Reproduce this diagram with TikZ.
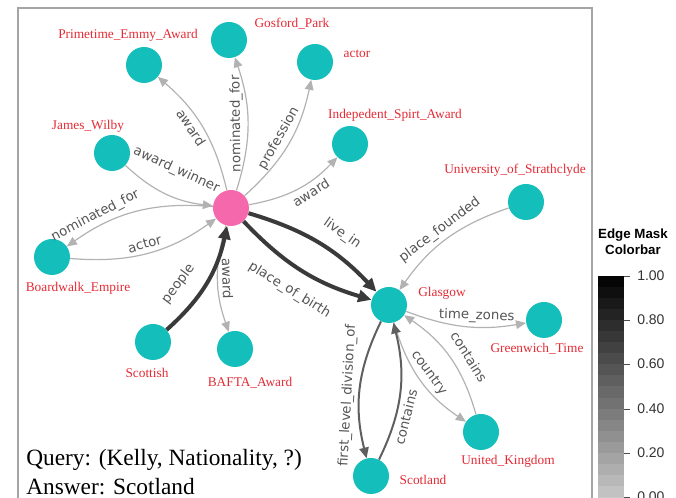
\documentclass[tikz,border=0pt]{standalone}
\usepackage{fontspec}
\setmainfont{Liberation Serif}
\newfontfamily\edgefont{DejaVu Sans}
\newfontfamily\barfont{Liberation Sans}
\usetikzlibrary{arrows.meta}

\definecolor{entteal}{RGB}{20,190,186}
\definecolor{qpink}{RGB}{246,104,172}
\definecolor{namered}{RGB}{228,42,52}
\definecolor{relgray}{RGB}{85,85,85}
\definecolor{lightedge}{RGB}{178,178,178}
\definecolor{darkedge}{RGB}{58,58,58}
\definecolor{midedge}{RGB}{95,95,95}
\definecolor{framegray}{RGB}{165,165,165}

\tikzset{
  ent/.style={circle,fill=entteal,minimum size=27pt,inner sep=0pt},
  qnode/.style={circle,fill=qpink,minimum size=27pt,inner sep=0pt},
  entname/.style={text=namered,font=\fontsize{10}{12}\selectfont,inner sep=0pt},
  rel/.style={text=relgray,font=\edgefont\fontsize{10}{12}\selectfont,sloped,inner sep=3pt},
  coldrel/.style={draw=lightedge,line width=0.9pt,-{Triangle[length=7.5pt,width=6.5pt]}},
  warmrel/.style={draw=midedge,line width=1.5pt,-{Triangle[length=8pt,width=7pt]}},
  hotrel/.style={draw=darkedge,line width=3pt,-{Triangle[length=10pt,width=9pt]}},
  ticklab/.style={font=\barfont\fontsize{10.5}{12}\selectfont,text=black!80,inner sep=0pt,anchor=west}
}

\begin{document}
\begin{tikzpicture}[x=0.75pt,y=0.75pt]
\useasboundingbox (0,0) rectangle (676,-498);
\clip (0,0) rectangle (676,-498);

% frame of the graph panel
\draw[framegray,line width=1.1pt] (18,-510) -- (18,-8) -- (592,-8) -- (592,-510);

% entities
\node[qnode] (kelly) at (231,-208) {};
\node[ent] (emmy) at (144,-65) {};
\node[ent] (gosford) at (229,-40) {};
\node[ent] (actor) at (315,-62) {};
\node[ent] (spirit) at (350,-144) {};
\node[ent] (wilby) at (112,-153) {};
\node[ent] (boardwalk) at (52,-257) {};
\node[ent] (scottish) at (153,-342) {};
\node[ent] (bafta) at (235,-349) {};
\node[ent] (strath) at (526,-202) {};
\node[ent] (glasgow) at (389,-305) {};
\node[ent] (greenwich) at (544,-320) {};
\node[ent] (uk) at (481,-432) {};
\node[ent] (scotland) at (371,-476) {};

% entity names
\node[entname] (emmyl) at (128,-35) {Primetime\_Emmy\_Award};
\node[entname] (gosfordl) at (292,-24) {Gosford\_Park};
\node[entname] (actorl) at (357,-54) {actor};
\node[entname] (spiritl) at (395,-115) {Indepedent\_Spirt\_Award};
\node[entname] (wilbyl) at (88,-126) {James\_Wilby};
\node[entname] (boardwalkl) at (78,-288) {Boardwalk\_Empire};
\node[entname] (scottishl) at (147,-373) {Scottish};
\node[entname] (baftal) at (250,-383) {BAFTA\_Award};
\node[entname] (strathl) at (515,-170) {University\_of\_Strathclyde};
\node[entname] (glasgowl) at (442,-293) {Glasgow};
\node[entname] (greenwichl) at (537,-349) {Greenwich\_Time};
\node[entname] (ukl) at (508,-461) {United\_Kingdom};
\node[entname] (scotlandl) at (423,-480) {Scotland};

% relations
\draw[coldrel] (kelly) to[bend right=18] node[rel,below,pos=0.55] (r1) {award} (emmy);
\draw[coldrel] (kelly) to[bend right=18] node[rel,above,allow upside down] (r2) {nominated\_for} (gosford);
\draw[coldrel] (kelly) to[bend right=18] node[rel,above] (r3) {profession} (actor);
\draw[coldrel] (kelly) to[bend right=18] node[rel,below,pos=0.6] (r4) {award} (spirit);
\draw[coldrel] (wilby) to[bend right=18] node[rel,above=11pt] (r5) {award\_winner} (kelly);
\draw[coldrel] (kelly) to[bend right=20] node[rel,above,pos=0.76] (r6) {nominated\_for} (boardwalk);
\draw[coldrel] (boardwalk) to[bend right=20] node[rel,above] (r7) {actor} (kelly);
\draw[coldrel] (kelly) to[bend right=18] node[rel,above] (r8) {award} (bafta);
\draw[coldrel] (strath) to[bend right=18] node[rel,above] (r9) {place\_founded} (glasgow);
\draw[coldrel] (glasgow) to[bend right=15] node[rel,above,pos=0.6] (r10) {time\_zones} (greenwich);
\draw[coldrel] (glasgow) to[bend right=20] node[rel,above] (r11) {country} (uk);
\draw[coldrel] (uk) to[bend right=20] node[rel,above=5pt,pos=0.42] (r12) {contains} (glasgow);
\draw[warmrel] (glasgow) to[bend right=20] node[rel,above,pos=0.56] (r13) {first\_level\_division\_of} (scotland);
\draw[warmrel] (scotland) to[bend right=20] node[rel,below,pos=0.33] (r14) {contains} (glasgow);
\draw[hotrel] (scottish) to[bend right=18] node[rel,above=8pt,pos=0.35] (r15) {people} (kelly);
\draw[hotrel] (kelly) to[bend left=15] node[rel,above=6pt,pos=0.6] (r16) {live\_in} (glasgow);
\draw[hotrel] (kelly) to[bend right=15] node[rel,below=8pt] (r17) {place\_of\_birth} (glasgow);

% query and answer
\node[anchor=west,align=left,inner sep=0pt,font=\fontsize{17.5}{21.75}\selectfont] (qa) at (26,-472)
  {Query: (Kelly, Nationality, ?)\\Answer: Scotland};

% colorbar
\foreach \i in {0,...,19}{
  \pgfmathsetmacro\shade{78*(1-(\i+0.5)/20)}
  \fill[white!\shade!black] (598,{-497+\i*11.05}) rectangle (624,{-497+(\i+1)*11.05});
}
\fill[white!78!black] (598,-497) rectangle (624,-510);
\foreach \v/\y [count=\k] in {1.00/276,0.80/320,0.60/364,0.40/409,0.20/453,0.00/497}{
  \draw[black!70,line width=0.6pt] (624,-\y) -- (630,-\y);
  \node[ticklab] (tick\k) at (637,-\y) {\v};
}
\node[align=center,inner sep=0pt,font=\barfont\bfseries\fontsize{10}{12}\selectfont] (cbar) at (633,-242) {Edge Mask\\Colorbar};
\end{tikzpicture}
\end{document}
